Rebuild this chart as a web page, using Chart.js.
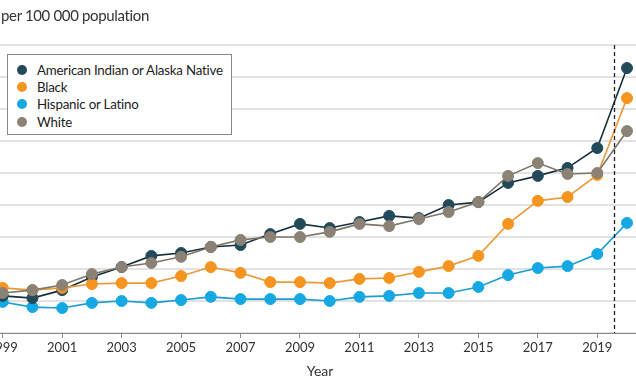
<!DOCTYPE html>
<html>
<head>
<meta charset="utf-8">
<script src="https://cdn.jsdelivr.net/npm/chart.js@4.4.1/dist/chart.umd.min.js"></script>
<style>
  html, body { margin: 0; padding: 0; background: #fff; overflow: hidden; }
  body { width: 636px; height: 382px; position: relative; font-family: Lato, "Open Sans", sans-serif; color: #333; }
  #wrap { position: absolute; left: -20px; top: 0; width: 680px; height: 382px; }
  #title { position: absolute; left: 1px; top: 6px; font-size: 15px; letter-spacing: -0.35px; color: #333; white-space: nowrap; }
  #legend { position: absolute; left: 7px; top: 54px; width: 225px; height: 81px; border: 1px solid #888; background: #fff; box-sizing: border-box; padding-top: 6px; }
  .item { display: flex; align-items: center; height: 17.3px; font-size: 13.3px; letter-spacing: -0.2px; color: #222; white-space: nowrap; }
  .dot { width: 10px; height: 10px; border-radius: 50%; margin-left: 9px; margin-right: 10px; }
</style>
</head>
<body>
<div id="wrap"><canvas id="c"></canvas></div>
<div id="title">per 100 000 population</div>
<div id="legend"></div>
<script>
const years = [1999,2000,2001,2002,2003,2004,2005,2006,2007,2008,2009,2010,2011,2012,2013,2014,2015,2016,2017,2018,2019,2020];
const tickYears = [1999,2001,2003,2005,2007,2009,2011,2013,2015,2017,2019];
const seriesNames = ["American Indian or Alaska Native","Black","Hispanic or Latino","White"];
const aian     = [1.16,1.09,1.34,1.75,2.06,2.41,2.50,2.69,2.75,3.09,3.41,3.28,3.47,3.66,3.59,4.00,4.09,4.69,4.91,5.16,5.78,8.28];
const black    = [1.41,1.34,1.41,1.53,1.56,1.56,1.78,2.06,1.88,1.59,1.59,1.56,1.69,1.72,1.91,2.09,2.41,3.41,4.13,4.25,4.94,7.34];
const hispanic = [0.97,0.81,0.78,0.94,1.00,0.94,1.03,1.13,1.06,1.06,1.06,1.00,1.13,1.16,1.25,1.25,1.44,1.81,2.03,2.09,2.47,3.44];
const white    = [1.25,1.34,1.50,1.84,2.06,2.19,2.38,2.69,2.91,3.00,3.00,3.16,3.41,3.34,3.56,3.78,4.09,4.91,5.31,4.97,5.00,6.31];
const dashedYear = 2019.57;

const colors = {
  aian: { fill: "#234a5b", line: "#182f3b" },
  black: { fill: "#f5941e", line: "#eb9a3a" },
  hispanic: { fill: "#16a8e2", line: "#1a9dd3" },
  white: { fill: "#8b8275", line: "#7d7569" }
};

function mk(name, vals, c, order) {
  return {
    label: name,
    data: years.map((y, i) => ({ x: y, y: vals[i] })),
    borderColor: c.line,
    backgroundColor: c.fill,
    pointBackgroundColor: c.fill,
    pointBorderColor: c.fill,
    pointRadius: 5.5,
    pointBorderWidth: 1,
    borderWidth: 1.6,
    tension: 0,
    order: order
  };
}

const dashPlugin = {
  id: "dashLine",
  afterDatasetsDraw(chart) {
    const { ctx, chartArea, scales } = chart;
    const x = scales.x.getPixelForValue(dashedYear);
    ctx.save();
    ctx.strokeStyle = "#222";
    ctx.lineWidth = 1.3;
    ctx.setLineDash([4, 3]);
    ctx.beginPath();
    ctx.moveTo(Math.round(x) + 0.5, chartArea.top);
    ctx.lineTo(Math.round(x) + 0.5, chartArea.bottom);
    ctx.stroke();
    ctx.restore();
  }
};

const chart = new Chart(document.getElementById("c"), {
  type: "line",
  data: {
    datasets: [
      mk(seriesNames[0], aian, colors.aian, 2),
      mk(seriesNames[1], black, colors.black, 1),
      mk(seriesNames[2], hispanic, colors.hispanic, 3),
      mk(seriesNames[3], white, colors.white, 0)
    ]
  },
  options: {
    responsive: true,
    maintainAspectRatio: false,
    animation: false,
    layout: { padding: { top: 45, left: 0, right: 0, bottom: 0 } },
    plugins: { legend: { display: false }, tooltip: { enabled: false } },
    scales: {
      x: {
        type: "linear",
        min: 1998.455,
        max: 2020.891,
        afterBuildTicks: (s) => { s.ticks = tickYears.map(v => ({ value: v })); },
        afterFit: (s) => { s.height = 49; },
        ticks: { callback: (v) => String(v), color: "#333", font: { family: "Lato", size: 13 }, padding: 2, maxRotation: 0, autoSkip: false },
        grid: { drawOnChartArea: false, drawTicks: true, tickLength: 5, color: "#888" },
        border: { display: true, color: "#888", width: 1 },
        title: { display: true, text: "Year", color: "#333", font: { family: "Lato", size: 14 }, padding: { top: 0, bottom: 2 } }
      },
      y: {
        min: 0,
        max: 9,
        ticks: { display: false, stepSize: 1 },
        afterFit: (s) => { s.width = 0; },
        grid: { color: "#e2e2e2", lineWidth: 2, drawTicks: false },
        border: { display: false }
      }
    }
  },
  plugins: [dashPlugin]
});

const leg = document.getElementById("legend");
chart.data.datasets.forEach(ds => {
  const row = document.createElement("div");
  row.className = "item";
  const dot = document.createElement("span");
  dot.className = "dot";
  dot.style.background = ds.backgroundColor;
  row.appendChild(dot);
  row.appendChild(document.createTextNode(ds.label));
  leg.appendChild(row);
});
</script>
</body>
</html>
